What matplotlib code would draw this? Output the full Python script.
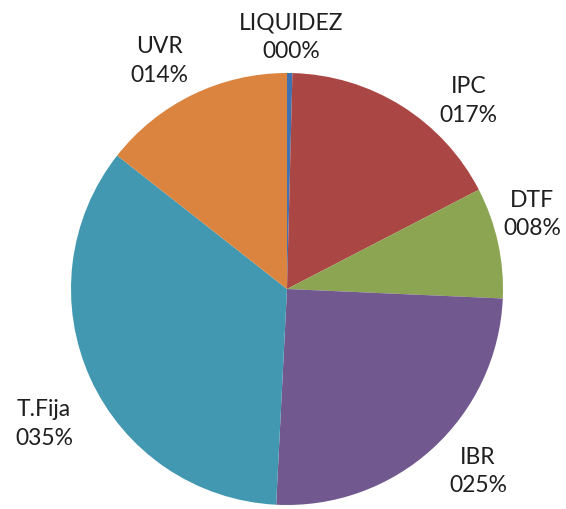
import numpy as np
import matplotlib.pyplot as plt

categories = ["LIQUIDEZ", "IPC", "DTF", "IBR", "T.Fija", "UVR"]
values = [0.4, 17.0, 8.3, 25.1, 34.8, 14.4]
pct_labels = ["000%", "017%", "008%", "025%", "035%", "014%"]
colors = ["#3F72B0", "#AA4644", "#8CA552", "#71598F", "#4398B1", "#DA843F"]

# label positions (data coords, pie radius = 1)
label_pos = [(0.02, 1.165), (0.84, 0.87), (1.135, 0.345),
             (0.885, -0.845), (-1.125, -0.625), (-0.59, 1.055)]

plt.rcParams['font.family'] = ['Lato', 'DejaVu Sans']

fig = plt.figure(figsize=(5.66, 5.09), dpi=100)
ax = fig.add_axes([71 / 566, 4 / 509, 432 / 566, 432 / 509])

ax.pie(values, colors=colors, startangle=90, counterclock=False,
       radius=1, wedgeprops=dict(linewidth=0))

for name, pct, (x, y) in zip(categories, pct_labels, label_pos):
    ax.text(x, y, name + "\n" + pct, ha="center", va="center",
            fontsize=16.5, color="#1f1f1f", linespacing=1.45, clip_on=False)

ax.set_xlim(-1, 1)
ax.set_ylim(-1, 1)
ax.set_aspect("equal")
ax.axis("off")

fig.savefig("out.png", dpi=100)
